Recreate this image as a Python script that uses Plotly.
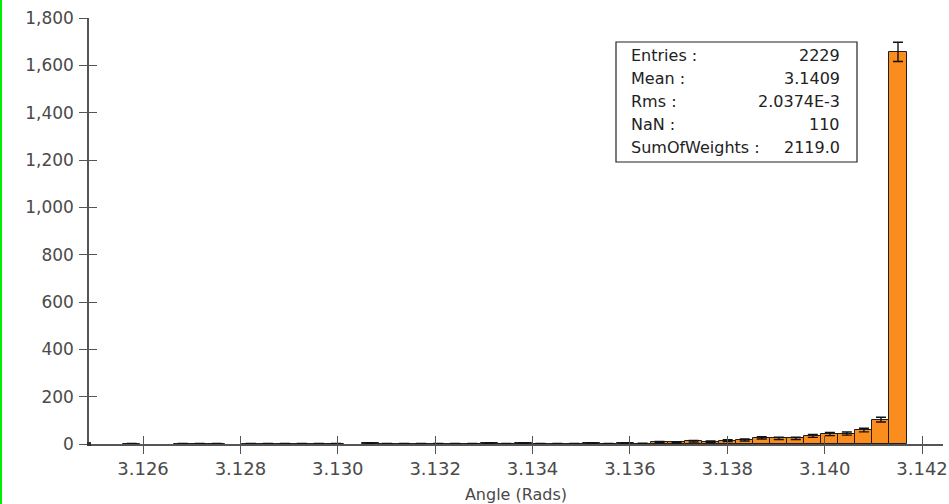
import math
import plotly.graph_objects as go

# Histogram definition: 50 equal bins over the angle range (radians)
bin_lo = 3.12489
bin_hi = 3.14238
n_bins = 50

# Displayed x-axis range
x_range = [3.12489, 3.14243]

# Entries per bin
counts = [
    0, 0, 1, 0, 0, 1, 1, 1, 0, 1,
    1, 1, 1, 1, 1, 0, 3, 1, 1, 1,
    1, 1, 1, 3, 1, 3, 1, 1, 1, 3,
    1, 3, 2, 8, 7, 12, 10, 14, 17, 26,
    24, 24, 34, 42, 44, 59, 103, 1657, 0, 0,
]

x_ticks = [3.126, 3.128, 3.130, 3.132, 3.134, 3.136, 3.138, 3.140, 3.142]
y_ticks = [0, 200, 400, 600, 800, 1000, 1200, 1400, 1600, 1800]

stat_labels = ["Entries :", "Mean :", "Rms :", "NaN :", "SumOfWeights :"]
stat_values = ["2229", "3.1409", "2.0374E-3", "110", "2119.0"]

bin_w = (bin_hi - bin_lo) / n_bins
centers = [bin_lo + (i + 0.5) * bin_w for i in range(n_bins)]
heights = [c if c > 0 else None for c in counts]
errors = [math.sqrt(c) if c > 0 else None for c in counts]

FONT = "DejaVu Sans"
AXIS_COL = "#555555"
TXT_COL = "#4a4a4a"

W, H = 949, 504
L, R, T, B = 89, 6, 18, 60
plot_w = W - L - R
plot_h = H - T - B


def px(x):
    return (x - L) / plot_w


def py(y):
    return (H - B - y) / plot_h


fig = go.Figure()
fig.add_trace(go.Bar(
    x=centers,
    y=heights,
    width=bin_w,
    marker=dict(color="#fb8c1e", line=dict(color="#1e1e1e", width=1)),
    error_y=dict(type="data", array=errors, visible=True,
                 color="#111111", thickness=1.4, width=5),
    showlegend=False,
    hoverinfo="x+y",
))
# empty trace so the companion tick axes are rendered
fig.add_trace(go.Scatter(x=[None], y=[None], xaxis="x2", yaxis="y2",
                         mode="markers", showlegend=False, hoverinfo="skip"))

common_tick = dict(ticklen=8, tickwidth=1.2, tickcolor=AXIS_COL)

fig.update_layout(
    width=W, height=H,
    margin=dict(l=L, r=R, t=T, b=B, pad=0, autoexpand=False),
    paper_bgcolor="white",
    plot_bgcolor="white",
    bargap=0,
    font=dict(family=FONT, size=17, color=TXT_COL),
    xaxis=dict(
        range=x_range,
        tickvals=x_ticks,
        ticktext=[f"{v:.3f}" for v in x_ticks],
        ticks="outside", **common_tick,
        showline=True, linecolor=AXIS_COL, linewidth=1.5,
        showgrid=False, zeroline=False, automargin=False,
        tickfont=dict(family=FONT, size=18, color=TXT_COL),
        title=dict(text="Angle (Rads)", font=dict(family=FONT, size=16, color=TXT_COL),
                   standoff=10),
    ),
    yaxis=dict(
        range=[0, 1800],
        tickvals=y_ticks,
        ticktext=[f"{v:,}" for v in y_ticks],
        ticks="outside", **common_tick,
        showline=True, linecolor=AXIS_COL, linewidth=1.5,
        showgrid=False, zeroline=False, automargin=False,
        tickfont=dict(family=FONT, size=17, color=TXT_COL),
        ticklabelstandoff=2,
    ),
    # companion axes carrying the inner half of each tick mark
    xaxis2=dict(
        range=x_range, overlaying="x", anchor="y", side="bottom",
        tickvals=x_ticks, ticks="inside", **common_tick, automargin=False,
        showticklabels=False, showline=False, showgrid=False, zeroline=False,
    ),
    yaxis2=dict(
        range=[0, 1800], overlaying="y", anchor="x", side="left",
        tickvals=y_ticks, ticks="inside", **common_tick, automargin=False,
        showticklabels=False, showline=False, showgrid=False, zeroline=False,
    ),
)

# statistics box
box_x0, box_x1, box_y0, box_y1 = 616, 857, 42, 162
fig.add_shape(type="rect", xref="paper", yref="paper",
              x0=px(box_x0), x1=px(box_x1), y0=py(box_y1), y1=py(box_y0),
              line=dict(color="#222222", width=1.2), fillcolor="white", layer="above")
row_y0, row_step = 56, 23
for i, (lab, val) in enumerate(zip(stat_labels, stat_values)):
    yy = py(row_y0 + i * row_step)
    fig.add_annotation(xref="paper", yref="paper", x=px(629), y=yy, text=lab,
                       showarrow=False, xanchor="left", yanchor="middle",
                       font=dict(family=FONT, size=16, color="#222222"))
    fig.add_annotation(xref="paper", yref="paper", x=px(842), y=yy, text=val,
                       showarrow=False, xanchor="right", yanchor="middle",
                       font=dict(family=FONT, size=16, color="#222222"))

# small square at the axes origin
fig.add_shape(type="rect", xref="paper", yref="paper", xsizemode="pixel", ysizemode="pixel",
              xanchor=0, yanchor=0, x0=-2, x1=2, y0=-2, y1=2,
              line=dict(width=0), fillcolor="#333333", layer="above")

# green frame edge on the left side of the panel
fig.add_shape(type="line", xref="paper", yref="paper",
              x0=px(1), x1=px(1), y0=py(H), y1=py(0),
              line=dict(color="#00ee00", width=2), layer="above")

fig.write_html("out.html")
